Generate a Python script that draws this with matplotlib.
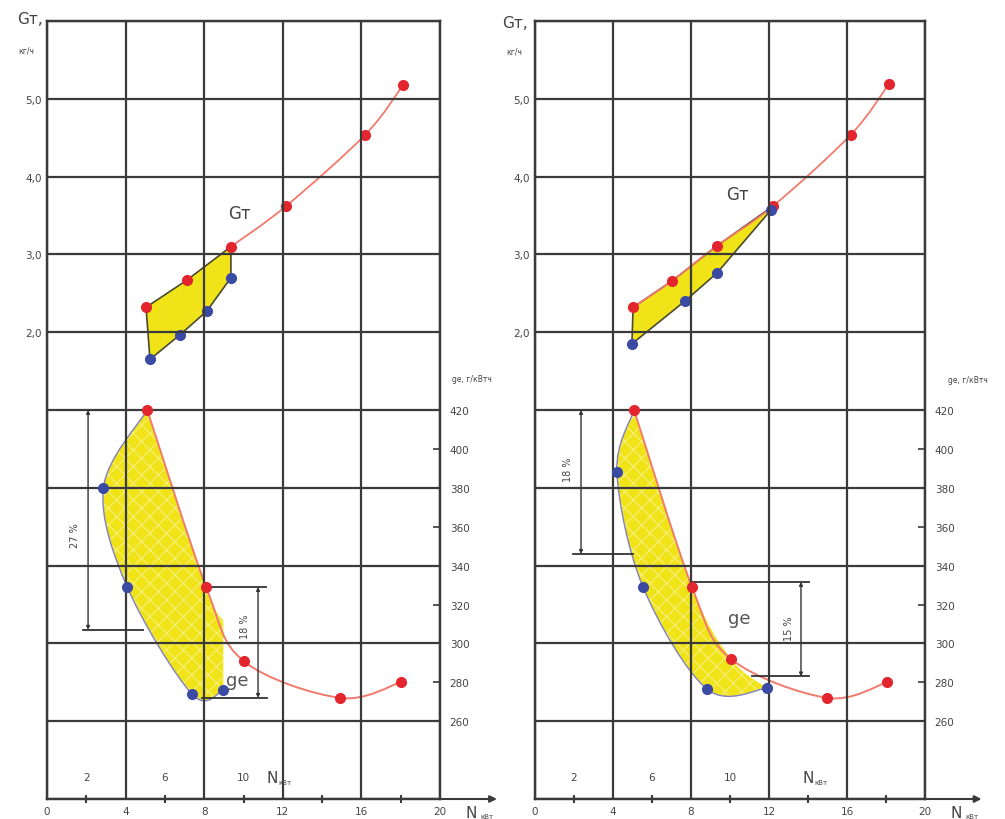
import numpy as np
import matplotlib.pyplot as plt
from matplotlib.path import Path
from matplotlib.patches import PathPatch, Polygon

# --- left chart: fuel consumption Gt (kg/h) and specific consumption ge (g/kWh) vs N (kW)
l_gt_red_n = [5.04, 7.12, 9.36, 12.16, 16.2, 18.13]
l_gt_red = [2.32, 2.67, 3.10, 3.62, 4.54, 5.18]
l_gt_blue_n = [5.24, 6.78, 8.13, 9.36]
l_gt_blue = [1.65, 1.97, 2.27, 2.70]
l_ge_red_n = [5.1, 8.1, 10.0, 14.9, 18.0]
l_ge_red = [420, 329, 291, 272, 280]
l_ge_blue_n = [2.87, 4.08, 7.37, 8.97]
l_ge_blue = [380, 329, 274, 276]
l_dims = ["27 %", "18 %"]

# --- right chart
r_gt_red_n = [5.03, 7.03, 9.33, 12.2, 16.2, 18.15]
r_gt_red = [2.32, 2.66, 3.11, 3.62, 4.54, 5.19]
r_gt_blue_n = [4.97, 7.69, 9.33, 12.1]
r_gt_blue = [1.85, 2.40, 2.76, 3.57]
r_ge_red_n = [5.08, 8.05, 10.05, 14.97, 18.05]
r_ge_red = [420, 329, 292, 272, 280]
r_ge_blue_n = [4.2, 5.54, 8.82, 11.9]
r_ge_blue = [388, 329, 276.5, 277]
r_dims = ["18 %", "15 %"]

n_major = [0, 4, 8, 12, 16, 20]
n_minor = [2, 6, 10, 14, 18]
gt_ticks = [2, 3, 4, 5]
gt_labels = ["2,0", "3,0", "4,0", "5,0"]
ge_major = [260, 300, 340, 380, 420]
ge_minor = [280, 320, 360, 400]

grid_c = "#3a3a3a"
txt_c = "#444444"
red = "#e3262e"
red_line = "#f27a6c"
blue = "#3b4ba3"
blue_line = "#8080c8"
yellow = "#f0e418"

plt.rcParams["hatch.linewidth"] = 0.7
fig = plt.figure(figsize=(10.05, 8.2), dpi=100)


def ftext(x, y, s, **kw):
    fig.text(x / 1005, 1 - y / 820, s, color=txt_c, **kw)


def cr_segments(pts):
    pts = np.asarray(pts, float)
    verts, codes = [], []
    n = len(pts)
    for i in range(n - 1):
        p0 = pts[max(i - 1, 0)]
        p1, p2 = pts[i], pts[i + 1]
        p3 = pts[min(i + 2, n - 1)]
        verts += [p1 + (p2 - p0) / 6, p2 - (p3 - p1) / 6, p2]
        codes += [Path.CURVE4] * 3
    return verts, codes


def curve(pts):
    v, c = cr_segments(pts)
    return Path([np.asarray(pts[0], float)] + v, [Path.MOVETO] + c)


def panel(x0, width, gt_rn, gt_r, gt_bn, gt_b, ge_rn, ge_r, ge_bn, ge_b,
          gt_start, join_top):
    ax = fig.add_axes([x0 / 1005, 20 / 820, width / 1005, 778 / 820])
    ax.set_xlim(0, 20)
    ax.set_ylim(-4, 6)
    ax2 = ax.twinx()
    ax2.set_ylim(220, 620)

    # grid on top of fills
    for n in n_major:
        ax2.axvline(n, color=grid_c, lw=1.6, zorder=2.5)
    for g in range(220, 621, 40):
        ax2.axhline(g, color=grid_c, lw=1.6, zorder=2.5)
    for a in (ax, ax2):
        for s in a.spines.values():
            s.set_color(grid_c)
            s.set_linewidth(1.6)

    # Gt band
    poly = [(n, g) for n, g in zip(gt_rn, gt_r) if n <= gt_bn[-1] + 0.2]
    poly += list(zip(gt_bn[::-1], gt_b[::-1]))
    ax.add_patch(Polygon(poly, closed=True, facecolor=yellow,
                         edgecolor="#4a4a30", lw=1.2, zorder=1))
    ax.add_patch(PathPatch(curve(list(zip(gt_rn[gt_start:], gt_r[gt_start:]))),
                           facecolor="none", edgecolor=red_line, lw=1.3, zorder=2))
    ax.plot(gt_rn, gt_r, "o", color=red, ms=7, zorder=3)
    ax.plot(gt_bn, gt_b, "o", color=blue, ms=7, zorder=3)

    # ge band
    red_pts = list(zip(ge_rn, ge_r))
    blue_pts = list(zip(ge_bn, ge_b))
    end_n = ge_bn[-1]
    top = [p for p in red_pts if p[0] < end_n]
    if join_top:
        top.append(blue_pts[-1])
    else:
        top.append((end_n, float(np.interp(end_n, ge_rn, ge_r))))
    lower = blue_pts[::-1] + [red_pts[0]]
    v1, c1 = cr_segments(top)
    v2, c2 = cr_segments(lower)
    verts = ([np.asarray(top[0], float)] + v1 + [np.asarray(lower[0], float)]
             + v2 + [np.asarray(top[0], float)])
    codes = [Path.MOVETO] + c1 + [Path.LINETO] + c2 + [Path.CLOSEPOLY]
    region = Path(verts, codes)
    ax2.add_patch(PathPatch(region, facecolor=yellow, edgecolor="none", lw=0, zorder=1))
    ax2.add_patch(PathPatch(region, facecolor="none", edgecolor="#f7f08a", lw=0,
                            hatch="xx", zorder=1.1))
    ax2.add_patch(PathPatch(curve(lower), facecolor="none", edgecolor=blue_line,
                            lw=1.0, zorder=2))
    ax2.add_patch(PathPatch(curve(red_pts), facecolor="none", edgecolor=red_line,
                            lw=1.4, zorder=2))
    ax2.plot(ge_rn, ge_r, "o", color=red, ms=7, zorder=4)
    ax2.plot(ge_bn, ge_b, "o", color=blue, ms=7, zorder=4)

    # ticks
    ax.set_xticks(n_major, [str(n) for n in n_major])
    ax.set_xticks(n_minor, minor=True)
    ax.tick_params(axis="x", which="major", length=0, pad=5, labelsize=7.5, labelcolor=txt_c)
    ax.tick_params(axis="x", which="minor", length=6, width=1.5, direction="inout", color=grid_c)
    ax.set_yticks(gt_ticks, gt_labels)
    ax.tick_params(axis="y", length=0, pad=4, labelsize=7.5, labelcolor=txt_c)
    ax2.set_yticks(ge_major, [str(g) for g in ge_major])
    ax2.set_yticks(ge_minor, [str(g) for g in ge_minor], minor=True)
    ax2.tick_params(axis="y", which="major", length=0, pad=7, labelsize=7.5, labelcolor=txt_c)
    ax2.tick_params(axis="y", which="minor", length=5, width=1.2, direction="in",
                    pad=7, labelsize=7.5, labelcolor=txt_c, color=grid_c)

    for n in (2, 6, 10):
        ax.text(n, -3.72, str(n), ha="center", va="center", fontsize=7.5, color=txt_c)
    ax.annotate("", xy=(22.9, -4), xytext=(20, -4), annotation_clip=False,
                arrowprops=dict(arrowstyle="-|>", color=grid_c, lw=1.5,
                                mutation_scale=10, shrinkA=0, shrinkB=0))
    ax.text(21.3, -4.17, "N", fontsize=11, va="center", color=txt_c, clip_on=False)
    ax.text(22.05, -4.22, "кВт", fontsize=5, va="center", color=txt_c, clip_on=False)
    return ax, ax2


def dim(ax2, x, g_top, g_bot, lines, label, lx, ly):
    ax2.annotate("", xy=(x, g_top), xytext=(x, g_bot),
                 arrowprops=dict(arrowstyle="<|-|>", color="#333333", lw=1.0,
                                 mutation_scale=5, shrinkA=0, shrinkB=0), zorder=3)
    for xa, xb, g in lines:
        ax2.plot([xa, xb], [g, g], color="#333333", lw=1.3, zorder=3)
    ax2.text(lx, ly, label, rotation=90, ha="center", va="center", fontsize=7, color=txt_c)


# left panel
ax, ax2 = panel(47, 393, l_gt_red_n, l_gt_red, l_gt_blue_n, l_gt_blue,
                l_ge_red_n, l_ge_red, l_ge_blue_n, l_ge_blue, 2, False)
ax.text(9.8, 3.53, "Gт", fontsize=12, ha="center", va="center", color=txt_c)
ax2.text(9.7, 281, "ge", fontsize=13, ha="center", va="center", color="#555555", zorder=5)
ax.text(11.15, -3.72, "N", fontsize=11, va="center", color=txt_c)
ax.text(11.75, -3.78, "кВт", fontsize=5, va="center", color=txt_c)
dim(ax2, 2.09, 420, 307, [(1.83, 4.9, 307)], l_dims[0], 1.43, 356)
dim(ax2, 10.74, 329, 272, [(8.1, 11.15, 329), (7.9, 11.2, 272)], l_dims[1], 10.08, 309)

# right panel
ax, ax2 = panel(535, 390, r_gt_red_n, r_gt_red, r_gt_blue_n, r_gt_blue,
                r_ge_red_n, r_ge_red, r_ge_blue_n, r_ge_blue, 0, True)
ax.text(10.4, 3.78, "Gт", fontsize=12, ha="center", va="center", color=txt_c)
ax2.text(10.46, 313, "ge", fontsize=13, ha="center", va="center", color="#555555", zorder=5)
ax.text(13.7, -3.72, "N", fontsize=11, va="center", color=txt_c)
ax.text(14.35, -3.78, "кВт", fontsize=5, va="center", color=txt_c)
dim(ax2, 2.36, 420, 346, [(1.95, 5.03, 346)], r_dims[0], 1.7, 390)
dim(ax2, 13.64, 331.6, 283, [(8.05, 14.05, 331.6), (11.13, 14.05, 283)], r_dims[1], 13.03, 308)

# axis captions
ftext(30, 20, "Gт,", fontsize=11, ha="center", va="center")
ftext(26, 51, "кг/ч", fontsize=5.5, ha="center", va="center")
ftext(515, 24, "Gт,", fontsize=11, ha="center", va="center")
ftext(514, 52, "кг/ч", fontsize=5.5, ha="center", va="center")
ftext(472, 380, "ge, г/кВтч", fontsize=5.5, ha="center", va="center")
ftext(968, 381, "ge, г/кВтч", fontsize=5.5, ha="center", va="center")

fig.savefig("out.png", dpi=100)
